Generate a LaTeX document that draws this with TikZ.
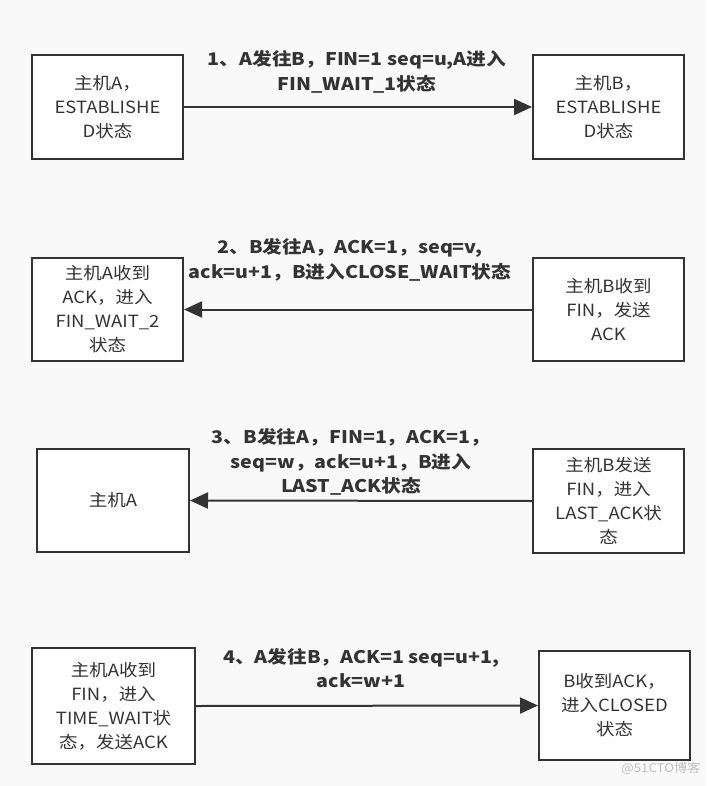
\documentclass[tikz,border=0pt]{standalone}
\usepackage{fontspec}
\setmainfont{Noto Sans CJK SC}[FakeStretch=1.1,BoldFeatures={FakeStretch=1.13}]
\usetikzlibrary{arrows.meta}

\definecolor{bgcol}{HTML}{F9F9F9}
\definecolor{edgecol}{HTML}{333333}

\tikzset{
	host/.style={draw=edgecol,line width=2pt,fill=white,align=center,inner sep=0pt,
		text=edgecol,font=\fontsize{16.8}{24}\selectfont},
	msg/.style={align=center,text=edgecol,font=\bfseries\fontsize{17.4}{24.5}\selectfont},
	link/.style={draw=edgecol,line width=2pt,-{Triangle[length=18pt,width=16pt]}}
}

\begin{document}
\begin{tikzpicture}[x=1pt,y=-1pt]
			\fill[bgcol] (0,0) rectangle (706,786);
			% step 1
			\node[host,minimum width=151,minimum height=104] (A1) at (107.5,107) {主机A，\\ESTABLISHE\\D状态};
			\node[host,minimum width=151,minimum height=104] (B1) at (608.5,107) {主机B，\\ESTABLISHE\\D状态};
			\draw[link] (A1.east) -- (B1.west);
			\node[msg] (m1) at (357,72) {1、A发往B，FIN=1 seq=u,A进入\\FIN\_WAIT\_1状态};
			% step 2
			\node[host,minimum width=151,minimum height=103] (A2) at (107.5,309.5) {主机A收到\\ACK，进入\\FIN\_WAIT\_2\\状态};
			\node[host,minimum width=151,minimum height=103] (B2) at (608.5,309.5) {主机B收到\\FIN，发送\\ACK};
			\draw[link] (B2.west) -- (A2.east);
			\node[msg] (m2) at (350,260) {2、B发往A，ACK=1，seq=v,\\ack=u+1，B进入CLOSE\_WAIT状态};
			% step 3
			\node[host,minimum width=152,minimum height=103] (A3) at (113,500.5) {主机A};
			\node[host,minimum width=151,minimum height=104] (B3) at (608.5,501) {主机B发送\\FIN，进入\\LAST\_ACK状\\态};
			\draw[link] (B3.west) -- (A3.east);
			\node[msg] (m3) at (351,462) {3、B发往A，FIN=1，ACK=1，\\seq=w，ack=u+1，B进入\\LAST\_ACK状态};
			% step 4
			\node[host,minimum width=163,minimum height=116] (A4) at (113.5,706) {主机A收到\\FIN，进入\\TIME\_WAIT状\\态，发送ACK};
			\node[host,minimum width=151,minimum height=109] (B4) at (614.5,705.5) {B收到ACK，\\进入CLOSED\\状态};
			\draw[link] (A4.east) -- (B4.west);
			\node[msg] (m4) at (361,668) {4、A发往B，ACK=1 seq=u+1,\\ack=w+1};
			% watermark
			\node[text=black!25,font=\fontsize{12}{12}\selectfont,anchor=east] (wm) at (704,768) {@51CTO博客};
		\end{tikzpicture}
\end{document}
